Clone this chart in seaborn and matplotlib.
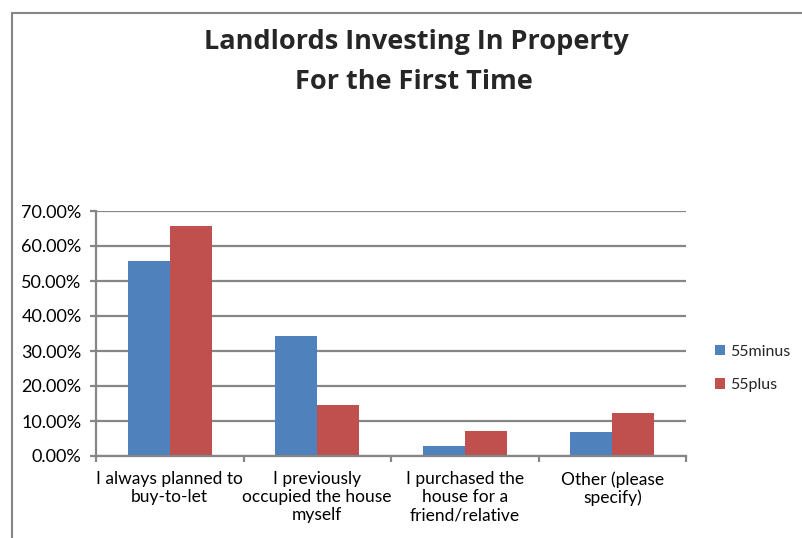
import matplotlib
matplotlib.use("Agg")
import matplotlib.pyplot as plt
from matplotlib.lines import Line2D
from matplotlib.ticker import FixedLocator, PercentFormatter
import pandas as pd
import seaborn as sns

# ----------------------------------------------------------------------
# Data
# ----------------------------------------------------------------------
categories = [
    "I always planned to\nbuy-to-let",
    "I previously\noccupied the house\nmyself",
    "I purchased the\nhouse for a\nfriend/relative",
    "Other (please\nspecify)",
]
series_names = ["55minus", "55plus"]
minus55 = [55.8, 34.3, 2.8, 7.0]
plus55 = [65.8, 14.5, 7.1, 12.4]
y_ticks = [0, 10, 20, 30, 40, 50, 60, 70]
title_lines = ["Landlords Investing In Property", "For the First Time"]

COLORS = {"55minus": "#4F81BD", "55plus": "#C0504D"}
GRID = "#868686"
FONT = ["Lato", "DejaVu Sans"]
TITLE_FONT = ["Open Sans", "DejaVu Sans"]
W, H = 802, 538

df = pd.DataFrame({
    "category": categories * 2,
    "group": [series_names[0]] * 4 + [series_names[1]] * 4,
    "value": minus55 + plus55,
})

sns.set_theme(style="white")
plt.rcParams["font.family"] = FONT

fig = plt.figure(figsize=(W / 100, H / 100), dpi=100)
# plot area in pixels: x 96..686, y 211..456
ax = fig.add_axes([96 / W, 1 - 456 / H, 590 / W, 245 / H])

sns.barplot(data=df, x="category", y="value", hue="group", order=categories,
            hue_order=series_names, palette=COLORS, width=0.57,
            saturation=1, ax=ax, legend=True, edgecolor="none")

ax.set_ylim(0, 70)
ax.set_xlim(-0.5, len(categories) - 0.5)
ax.yaxis.set_major_locator(FixedLocator(y_ticks))
ax.yaxis.set_major_formatter(PercentFormatter(decimals=2))
ax.grid(axis="y", color=GRID, linewidth=1.6)
ax.set_axisbelow(True)
ax.set_xlabel("")
ax.set_ylabel("")

for side in ("top", "right"):
    ax.spines[side].set_visible(False)
for side in ("left", "bottom"):
    ax.spines[side].set_color(GRID)
    ax.spines[side].set_linewidth(1.6)

# Excel-style ticks: labels centred, tick marks on category boundaries
ax.tick_params(axis="x", which="major", length=0, pad=11,
               labelsize=12.5, labelcolor="black")
ax.set_xticks([i - 0.5 for i in range(len(categories) + 1)], minor=True)
ax.tick_params(axis="x", which="minor", length=4.3, width=1.6, color=GRID,
               direction="out", bottom=True)
ax.tick_params(axis="y", length=4.3, width=1.6, color=GRID, direction="out",
               left=True, labelsize=13, labelcolor="black", pad=6)
for lbl in ax.get_xticklabels():
    lbl.set_linespacing(1.15)

ax.legend(loc="center left", bbox_to_anchor=(707 / W, 1 - 368.5 / H),
          bbox_transform=fig.transFigure, frameon=False, borderpad=0,
          fontsize=11.5, handlelength=0.62, handleheight=0.62,
          handletextpad=0.35, labelspacing=1.2)

fig.text(416 / W, 1 - 49 / H, title_lines[0], ha="center", va="baseline",
         fontsize=19.5, fontweight="bold", family=TITLE_FONT)
fig.text(414 / W, 1 - 89 / H, title_lines[1], ha="center", va="baseline",
         fontsize=19.5, fontweight="bold", family=TITLE_FONT)

# Chart-area border (top and left only, as in the reference)
fig.add_artist(Line2D([12 / W, 12 / W], [0, 1 - 13 / H],
                      transform=fig.transFigure, color=GRID, linewidth=1.5))
fig.add_artist(Line2D([12 / W, 1], [1 - 13 / H, 1 - 13 / H],
                      transform=fig.transFigure, color=GRID, linewidth=1.5))

fig.savefig("out.png", dpi=100, facecolor="white")
